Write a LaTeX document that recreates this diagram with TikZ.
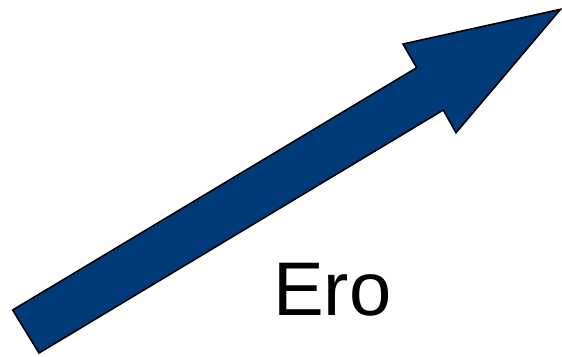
\documentclass[tikz,border=0pt]{standalone}
\usepackage{fontspec}
\setmainfont{Liberation Sans}
\definecolor{arrowblue}{RGB}{0,58,120}
\begin{document}
\begin{tikzpicture}[x=1pt,y=-1pt,
  bigarrow/.style={fill=arrowblue,draw=black,line width=1.6pt,line join=miter},
  label/.style={font=\fontsize{76}{80}\selectfont,inner sep=0pt,anchor=base west}]
\useasboundingbox (0,0) rectangle (562,356);
\coordinate (t1) at (12.7,310);
\coordinate (t2) at (39,353);
\coordinate (n2) at (443.3,110);
\coordinate (b2) at (456,132.7);
\coordinate (tip) at (560.5,9.3);
\coordinate (b1) at (403,44);
\coordinate (n1) at (416.7,67.7);
\draw[bigarrow] (t1) -- (n1) -- (b1) -- (tip) -- (b2) -- (n2) -- (t2) -- cycle;
\node[label] (ero) at (273,315) {Ero};
\end{tikzpicture}
\end{document}
